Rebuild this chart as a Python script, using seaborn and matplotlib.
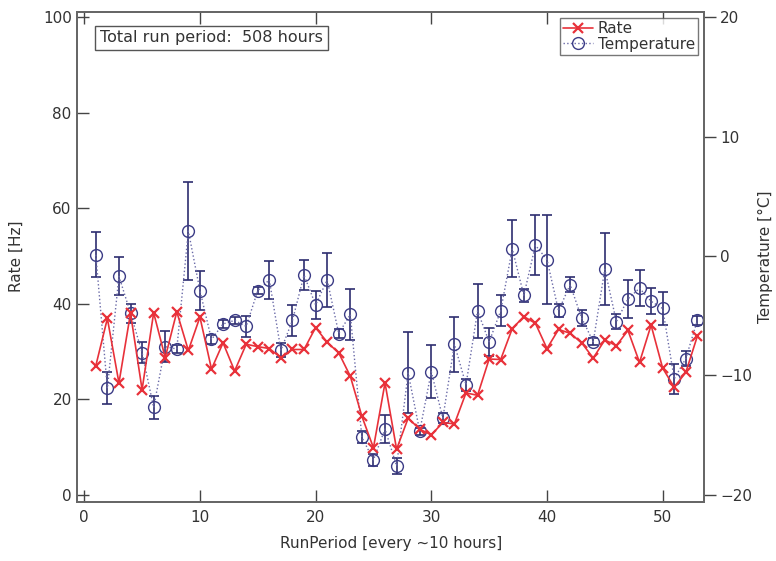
import numpy as np
import pandas as pd
import matplotlib
matplotlib.use("Agg")
import matplotlib.pyplot as plt
import seaborn as sns

# run periods (every ~10 hours)
run_period = list(range(1, 54))

rate = [27.0, 36.9, 23.4, 38.0, 22.0, 38.1, 28.7, 38.3, 30.2, 37.2,
        26.3, 31.8, 25.9, 31.5, 31.0, 30.6, 28.7, 30.4, 30.4, 35.0,
        31.9, 29.7, 24.8, 16.4, 9.8, 23.4, 9.5, 16.0, 13.7, 12.5,
        15.1, 14.8, 21.3, 20.8, 28.4, 28.3, 34.8, 37.3, 35.9, 30.6,
        34.6, 33.8, 31.8, 28.6, 32.4, 31.2, 34.4, 27.7, 35.5, 26.5,
        22.5, 25.6, 33.2]

temperature = [0.1, -11.1, -1.7, -4.8, -8.1, -12.7, -7.6, -7.8, 2.1, -2.9,
               -7.0, -5.7, -5.4, -5.9, -2.9, -2.0, -7.9, -5.4, -1.6, -4.1,
               -2.0, -6.5, -4.9, -15.2, -17.1, -14.5, -17.6, -9.8, -14.7, -9.7,
               -13.6, -7.4, -10.8, -4.6, -7.2, -4.6, 0.6, -3.3, 0.9, -0.3,
               -4.6, -2.4, -5.2, -7.2, -1.1, -5.5, -3.6, -2.7, -3.8, -4.4,
               -10.3, -8.6, -5.4]

temp_err = [1.9, 1.35, 1.6, 0.8, 0.9, 1.0, 1.3, 0.3, 4.1, 1.65,
            0.4, 0.3, 0.3, 0.9, 0.3, 1.6, 0.6, 1.3, 1.25, 1.15,
            2.25, 0.4, 2.15, 0.5, 0.5, 1.2, 0.65, 3.4, 0.3, 2.2,
            0.4, 2.3, 0.5, 2.25, 1.2, 1.3, 2.4, 0.55, 2.5, 3.7,
            0.55, 0.6, 0.65, 0.3, 3.0, 0.6, 1.6, 1.5, 1.1, 1.4,
            1.25, 0.63, 0.4]

df = pd.DataFrame({"run": run_period, "rate": rate,
                   "temp": temperature, "err": temp_err})

sns.set_style("white")
plt.rcParams['font.family'] = ['DejaVu Sans']
txt = '#333333'
red = '#e8313a'
navy = '#3c3c86'
fs = 11

fig = plt.figure(figsize=(7.76, 5.61), dpi=100)
ax = fig.add_axes([77.3/776, 1-501.7/561, (704.3-77.3)/776, (501.7-11.7)/561])
ax2 = ax.twinx()

# temperature on the right axis
ax2.errorbar(df.run, df.temp, yerr=df.err, fmt='none', ecolor='#2e2e70',
             elinewidth=1.2, capsize=3.6, capthick=1.2, zorder=2)
sns.lineplot(data=df, x="run", y="temp", ax=ax2, color='#6a6aa8', lw=1.0,
             linestyle=':', marker='o', markersize=8.5, markerfacecolor='none',
             markeredgecolor=navy, markeredgewidth=1.0, label="Temperature",
             legend=False, zorder=3)

# rate on the left axis
sns.lineplot(data=df, x="run", y="rate", ax=ax, color=red, lw=1.2,
             marker='x', markersize=6.5, markeredgewidth=1.6,
             markeredgecolor=red, label="Rate", legend=False, zorder=4)

ax.set_zorder(ax2.get_zorder() + 1)
ax.patch.set_visible(False)

ax.set_xlim(-0.6, 53.6)
ax.set_ylim(-1.5, 101.2)
ax2.set_ylim(-20.6, 20.48)

ax.set_xticks([0, 10, 20, 30, 40, 50])
ax.set_yticks([0, 20, 40, 60, 80, 100])
ax2.set_yticks([-20, -10, 0, 10, 20])

ax.tick_params(axis='x', direction='in', length=8.5, width=1, color='#444444',
               top=True, bottom=True, labelsize=fs, labelcolor=txt, pad=6)
ax.tick_params(axis='y', direction='in', length=8.5, width=1, color='#444444',
               left=True, right=False, labelsize=fs, labelcolor=txt, pad=4)
ax2.tick_params(axis='y', direction='out', length=8.5, width=1, color='#444444',
                right=True, labelsize=fs, labelcolor=txt, pad=3)

for a in (ax, ax2):
    for s in a.spines.values():
        s.set_color('#666666')
        s.set_linewidth(1.3)

ax.set_xlabel("RunPeriod [every ~10 hours]", fontsize=fs, color=txt, labelpad=8)
ax.set_ylabel("Rate [Hz]", fontsize=fs, color=txt, labelpad=14)
ax2.set_ylabel("Temperature [°C]", fontsize=fs, color=txt, labelpad=4)

ax.text(0.036, 0.962, "Total run period:  508 hours", transform=ax.transAxes,
        fontsize=11.5, color=txt, va='top', ha='left',
        bbox=dict(boxstyle='square,pad=0.3', fc='white', ec='#555555', lw=1))

h1, l1 = ax.get_legend_handles_labels()
h2, l2 = ax2.get_legend_handles_labels()
leg = ax.legend(h1 + h2, l1 + l2, loc='upper right', fontsize=fs,
                frameon=True, fancybox=False, borderpad=0.2, labelspacing=0.05,
                handlelength=2.0, handletextpad=0.3, borderaxespad=0.4)
leg.get_frame().set_edgecolor('#555555')
leg.get_frame().set_linewidth(1)
for t in leg.get_texts():
    t.set_color(txt)

fig.savefig("out.png", dpi=100)
